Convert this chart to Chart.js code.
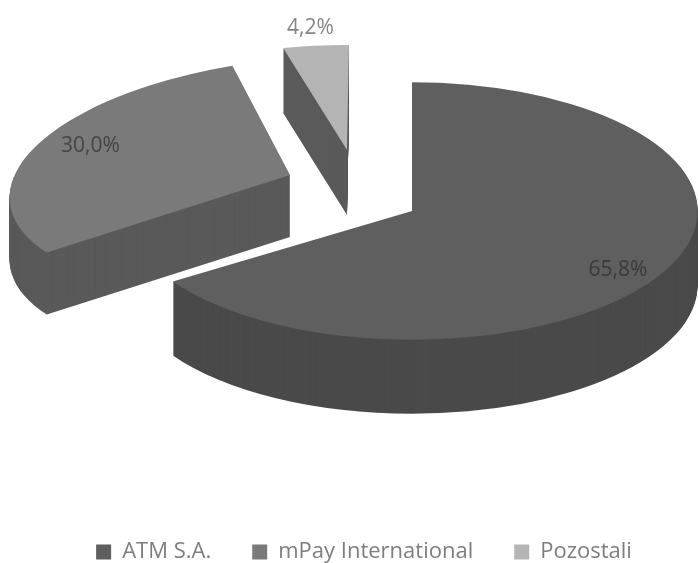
<!DOCTYPE html>
<html>
<head>
<meta charset="utf-8">
<title>Udział w rynku</title>
<script src="https://cdn.jsdelivr.net/npm/chart.js@4"></script>
<style>
  html, body { margin: 0; padding: 0; background: #fff; }
  #wrap { width: 698px; height: 563px; }
</style>
</head>
<body>
<div id="wrap"><canvas id="wykres"></canvas></div>
<script>
const firmy = ["ATM S.A.", "mPay International", "Pozostali"];
const udzialy = [65.8, 30.0, 4.2];

// kolory wierzchu i boku kazdego wycinka
const koloryGora = ["#5f5f5f", "#7a7a7a", "#b4b4b4"];
const koloryBok = ["#4a4a4a", "#5a5a5a", "#5a5a5a"];
const koloryEtykiet = ["#3a3a3a", "#454545", "#858585"];

const PROMIEN = 280;
// wysuniecie wycinka od srodka kola, px
const wysuniecie = [[48, -39], [-74, -75], [-17, -100]];
// rzut 3D: macierz a, b, c, d wzgledem promienia
const rzut = [
  [1.02, 0, 0, 0.46],
  [1.0, -0.057, -0.057, 0.42],
  [0.9, 0.01, -0.007, 0.375]
];
const glebokosc = [74, 62, 65];
const promienEtykiety = [0.82, 0.78, 1.17];
const korektaEtykiety = [9, -8, 0];

// kolejnosc rysowania: najpierw wycinki z tylu
const kolejnosc = [2, 1, 0];

const pie3d = {
  id: "pie3d",
  beforeDatasetDraw(chart) {
    const ctx = chart.ctx;
    const luki = chart.getDatasetMeta(0).data;

    kolejnosc.forEach(i => {
      const luk = luki[i];
      const m = rzut[i];
      const k = luk.outerRadius;

      const sciezka = () => {
        ctx.beginPath();
        ctx.moveTo(0, 0);
        ctx.arc(0, 0, 1, luk.startAngle, luk.endAngle);
        ctx.closePath();
      };
      const ustaw = dy => {
        ctx.setTransform(m[0] * k, m[1] * k, m[2] * k, m[3] * k,
          luk.x + wysuniecie[i][0], luk.y + wysuniecie[i][1] + dy);
      };

      ctx.save();
      // bok wycinka
      ctx.fillStyle = koloryBok[i];
      for (let dy = glebokosc[i]; dy > 0; dy--) {
        ustaw(dy);
        sciezka();
        ctx.fill();
      }
      // wierzch
      ustaw(0);
      sciezka();
      ctx.fillStyle = koloryGora[i];
      ctx.fill();
      ctx.restore();
    });

    // etykiety procentowe
    ctx.save();
    ctx.font = '21px "Open Sans"';
    ctx.textAlign = "center";
    ctx.textBaseline = "middle";
    luki.forEach((luk, i) => {
      const m = rzut[i];
      const kat = (luk.startAngle + luk.endAngle) / 2;
      const r = luk.outerRadius * promienEtykiety[i];
      const ux = Math.cos(kat) * r;
      const uy = Math.sin(kat) * r;
      const x = luk.x + wysuniecie[i][0] + m[0] * ux + m[2] * uy;
      const y = luk.y + wysuniecie[i][1] + m[1] * ux + m[3] * uy + korektaEtykiety[i];
      ctx.fillStyle = koloryEtykiet[i];
      ctx.fillText(udzialy[i].toFixed(1).replace(".", ",") + "%", x, y);
    });
    ctx.restore();

    // luki rysuje powyzej ta wtyczka
    return false;
  }
};

new Chart(document.getElementById("wykres"), {
  type: "pie",
  data: {
    labels: firmy,
    datasets: [{
      data: udzialy,
      backgroundColor: koloryGora,
      borderWidth: 0
    }]
  },
  options: {
    responsive: true,
    maintainAspectRatio: false,
    animation: false,
    radius: PROMIEN,
    layout: { padding: { bottom: -10, left: 30 } },
    plugins: {
      tooltip: { enabled: false },
      legend: {
        position: "bottom",
        labels: {
          color: "#7e7e7e",
          boxWidth: 15,
          boxHeight: 15,
          padding: 41,
          font: { family: "Open Sans", size: 22 }
        }
      }
    }
  },
  plugins: [pie3d]
});
</script>
</body>
</html>
